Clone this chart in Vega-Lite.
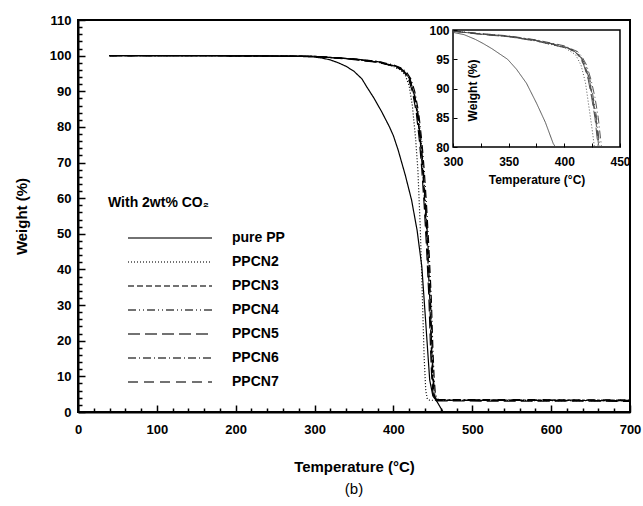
{
  "$schema": "https://vega.github.io/schema/vega-lite/v6.json",
  "width": 552,
  "height": 392,
  "autosize": {"type": "none"},
  "padding": {"left": 78, "top": 20, "right": 13, "bottom": 94},
  "background": "white",
  "title": {"text": "(b)", "orient": "bottom", "frame": "group", "anchor": "middle", "offset": 8, "fontSize": 15, "fontWeight": "normal", "font": "Liberation Sans", "color": "black"},
  "datasets": {
    "main": [
      {"s": "pure PP", "t": 40, "w": 100}, {"s": "pure PP", "t": 100, "w": 100}, {"s": "pure PP", "t": 200, "w": 99.95}, {"s": "pure PP", "t": 280, "w": 99.8}, {"s": "pure PP", "t": 300, "w": 99.6}, {"s": "pure PP", "t": 310, "w": 99.3}, {"s": "pure PP", "t": 320, "w": 98.8}, {"s": "pure PP", "t": 330, "w": 98.0}, {"s": "pure PP", "t": 340, "w": 97}, {"s": "pure PP", "t": 350, "w": 95.6}, {"s": "pure PP", "t": 360, "w": 93.5}, {"s": "pure PP", "t": 366, "w": 91.3}, {"s": "pure PP", "t": 375, "w": 88.2}, {"s": "pure PP", "t": 385, "w": 84.3}, {"s": "pure PP", "t": 395, "w": 80}, {"s": "pure PP", "t": 400, "w": 77.5}, {"s": "pure PP", "t": 406, "w": 73.5}, {"s": "pure PP", "t": 415, "w": 66.5}, {"s": "pure PP", "t": 423, "w": 59.5}, {"s": "pure PP", "t": 430, "w": 51}, {"s": "pure PP", "t": 436, "w": 40.8}, {"s": "pure PP", "t": 441, "w": 25}, {"s": "pure PP", "t": 446, "w": 9}, {"s": "pure PP", "t": 450, "w": 4.5}, {"s": "pure PP", "t": 455, "w": 3}, {"s": "pure PP", "t": 463, "w": 0},

      {"s": "PPCN2", "t": 40, "w": 100}, {"s": "PPCN2", "t": 150, "w": 100}, {"s": "PPCN2", "t": 250, "w": 99.9}, {"s": "PPCN2", "t": 300, "w": 99.8}, {"s": "PPCN2", "t": 350, "w": 99}, {"s": "PPCN2", "t": 380, "w": 98.2}, {"s": "PPCN2", "t": 400, "w": 97}, {"s": "PPCN2", "t": 410, "w": 95.8}, {"s": "PPCN2", "t": 415, "w": 94.5}, {"s": "PPCN2", "t": 420, "w": 91.5}, {"s": "PPCN2", "t": 424, "w": 86}, {"s": "PPCN2", "t": 428, "w": 77}, {"s": "PPCN2", "t": 431, "w": 68}, {"s": "PPCN2", "t": 434, "w": 52}, {"s": "PPCN2", "t": 437, "w": 30}, {"s": "PPCN2", "t": 439, "w": 15}, {"s": "PPCN2", "t": 441, "w": 6}, {"s": "PPCN2", "t": 443, "w": 3.6}, {"s": "PPCN2", "t": 446, "w": 3.3}, {"s": "PPCN2", "t": 600, "w": 3.2}, {"s": "PPCN2", "t": 700, "w": 3.2},

      {"s": "PPCN3", "t": 40, "w": 100}, {"s": "PPCN3", "t": 150, "w": 100}, {"s": "PPCN3", "t": 250, "w": 99.9}, {"s": "PPCN3", "t": 300, "w": 99.8}, {"s": "PPCN3", "t": 350, "w": 99}, {"s": "PPCN3", "t": 380, "w": 98.2}, {"s": "PPCN3", "t": 400, "w": 97.2}, {"s": "PPCN3", "t": 410, "w": 96.2}, {"s": "PPCN3", "t": 415, "w": 95.2}, {"s": "PPCN3", "t": 420, "w": 93.5}, {"s": "PPCN3", "t": 425, "w": 90}, {"s": "PPCN3", "t": 430, "w": 84}, {"s": "PPCN3", "t": 434, "w": 76}, {"s": "PPCN3", "t": 437, "w": 68}, {"s": "PPCN3", "t": 440, "w": 58}, {"s": "PPCN3", "t": 443, "w": 46}, {"s": "PPCN3", "t": 446, "w": 32}, {"s": "PPCN3", "t": 448, "w": 18}, {"s": "PPCN3", "t": 449.5, "w": 10}, {"s": "PPCN3", "t": 451, "w": 5.5}, {"s": "PPCN3", "t": 453, "w": 3.6}, {"s": "PPCN3", "t": 456, "w": 3.3}, {"s": "PPCN3", "t": 700, "w": 3.2},

      {"s": "PPCN4", "t": 40, "w": 100}, {"s": "PPCN4", "t": 150, "w": 100}, {"s": "PPCN4", "t": 250, "w": 99.9}, {"s": "PPCN4", "t": 300, "w": 99.8}, {"s": "PPCN4", "t": 350, "w": 99.1}, {"s": "PPCN4", "t": 380, "w": 98.3}, {"s": "PPCN4", "t": 400, "w": 97.3}, {"s": "PPCN4", "t": 410, "w": 96.4}, {"s": "PPCN4", "t": 416, "w": 95.2}, {"s": "PPCN4", "t": 421, "w": 93.5}, {"s": "PPCN4", "t": 426, "w": 90}, {"s": "PPCN4", "t": 431, "w": 84}, {"s": "PPCN4", "t": 435, "w": 76}, {"s": "PPCN4", "t": 438, "w": 68}, {"s": "PPCN4", "t": 441, "w": 58}, {"s": "PPCN4", "t": 444, "w": 46}, {"s": "PPCN4", "t": 447, "w": 32}, {"s": "PPCN4", "t": 449, "w": 18}, {"s": "PPCN4", "t": 450.5, "w": 10}, {"s": "PPCN4", "t": 452, "w": 5.5}, {"s": "PPCN4", "t": 454, "w": 3.6}, {"s": "PPCN4", "t": 457, "w": 3.4}, {"s": "PPCN4", "t": 700, "w": 3.3},

      {"s": "PPCN5", "t": 40, "w": 100}, {"s": "PPCN5", "t": 150, "w": 100}, {"s": "PPCN5", "t": 250, "w": 99.9}, {"s": "PPCN5", "t": 300, "w": 99.8}, {"s": "PPCN5", "t": 350, "w": 98.9}, {"s": "PPCN5", "t": 380, "w": 98.1}, {"s": "PPCN5", "t": 400, "w": 97.1}, {"s": "PPCN5", "t": 409, "w": 96.2}, {"s": "PPCN5", "t": 414, "w": 95.2}, {"s": "PPCN5", "t": 419, "w": 93.5}, {"s": "PPCN5", "t": 424, "w": 90}, {"s": "PPCN5", "t": 429, "w": 84}, {"s": "PPCN5", "t": 433, "w": 76}, {"s": "PPCN5", "t": 436, "w": 68}, {"s": "PPCN5", "t": 439, "w": 58}, {"s": "PPCN5", "t": 442, "w": 46}, {"s": "PPCN5", "t": 445, "w": 32}, {"s": "PPCN5", "t": 447, "w": 18}, {"s": "PPCN5", "t": 448.5, "w": 10}, {"s": "PPCN5", "t": 450, "w": 5.5}, {"s": "PPCN5", "t": 452, "w": 3.5}, {"s": "PPCN5", "t": 455, "w": 3.1}, {"s": "PPCN5", "t": 700, "w": 3.0},

      {"s": "PPCN6", "t": 40, "w": 100}, {"s": "PPCN6", "t": 150, "w": 100}, {"s": "PPCN6", "t": 250, "w": 99.9}, {"s": "PPCN6", "t": 300, "w": 99.8}, {"s": "PPCN6", "t": 350, "w": 99.1}, {"s": "PPCN6", "t": 380, "w": 98.4}, {"s": "PPCN6", "t": 400, "w": 97.4}, {"s": "PPCN6", "t": 411, "w": 96.4}, {"s": "PPCN6", "t": 417, "w": 95.2}, {"s": "PPCN6", "t": 422, "w": 93.5}, {"s": "PPCN6", "t": 427, "w": 90}, {"s": "PPCN6", "t": 432, "w": 84}, {"s": "PPCN6", "t": 436, "w": 76}, {"s": "PPCN6", "t": 439, "w": 68}, {"s": "PPCN6", "t": 442, "w": 58}, {"s": "PPCN6", "t": 445, "w": 46}, {"s": "PPCN6", "t": 448, "w": 32}, {"s": "PPCN6", "t": 450, "w": 18}, {"s": "PPCN6", "t": 451.5, "w": 10}, {"s": "PPCN6", "t": 453, "w": 5.5}, {"s": "PPCN6", "t": 455, "w": 3.7}, {"s": "PPCN6", "t": 458, "w": 3.5}, {"s": "PPCN6", "t": 700, "w": 3.4},

      {"s": "PPCN7", "t": 40, "w": 100}, {"s": "PPCN7", "t": 150, "w": 100}, {"s": "PPCN7", "t": 250, "w": 99.9}, {"s": "PPCN7", "t": 300, "w": 99.8}, {"s": "PPCN7", "t": 350, "w": 99}, {"s": "PPCN7", "t": 380, "w": 98.2}, {"s": "PPCN7", "t": 400, "w": 97.2}, {"s": "PPCN7", "t": 410, "w": 96.3}, {"s": "PPCN7", "t": 415.5, "w": 95.2}, {"s": "PPCN7", "t": 420.5, "w": 93.5}, {"s": "PPCN7", "t": 425.5, "w": 90}, {"s": "PPCN7", "t": 430.5, "w": 84}, {"s": "PPCN7", "t": 434.5, "w": 76}, {"s": "PPCN7", "t": 437.5, "w": 68}, {"s": "PPCN7", "t": 440.5, "w": 58}, {"s": "PPCN7", "t": 443.5, "w": 46}, {"s": "PPCN7", "t": 446.5, "w": 32}, {"s": "PPCN7", "t": 448.5, "w": 18}, {"s": "PPCN7", "t": 450, "w": 10}, {"s": "PPCN7", "t": 451.5, "w": 5.5}, {"s": "PPCN7", "t": 453.5, "w": 3.6}, {"s": "PPCN7", "t": 456.5, "w": 3.3}, {"s": "PPCN7", "t": 700, "w": 3.2}
    ],
    "inset": [
      {"s": "pure PP", "t": 300, "w": 99.6}, {"s": "pure PP", "t": 310, "w": 99.2}, {"s": "pure PP", "t": 320, "w": 98.4}, {"s": "pure PP", "t": 327, "w": 97.7}, {"s": "pure PP", "t": 335, "w": 96.8}, {"s": "pure PP", "t": 342, "w": 95.9}, {"s": "pure PP", "t": 349, "w": 95.0}, {"s": "pure PP", "t": 357, "w": 93.3}, {"s": "pure PP", "t": 366, "w": 90.9}, {"s": "pure PP", "t": 375, "w": 87.5}, {"s": "pure PP", "t": 383, "w": 84.2}, {"s": "pure PP", "t": 390, "w": 80.6}, {"s": "pure PP", "t": 392, "w": 80},

      {"s": "PPCN2", "t": 300, "w": 99.8}, {"s": "PPCN2", "t": 325, "w": 99.3}, {"s": "PPCN2", "t": 350, "w": 98.9}, {"s": "PPCN2", "t": 375, "w": 98.1}, {"s": "PPCN2", "t": 400, "w": 97}, {"s": "PPCN2", "t": 410, "w": 95.8}, {"s": "PPCN2", "t": 415, "w": 94}, {"s": "PPCN2", "t": 419, "w": 91}, {"s": "PPCN2", "t": 422, "w": 87}, {"s": "PPCN2", "t": 425, "w": 83}, {"s": "PPCN2", "t": 427, "w": 80},

      {"s": "PPCN3", "t": 300, "w": 99.8}, {"s": "PPCN3", "t": 325, "w": 99.3}, {"s": "PPCN3", "t": 350, "w": 98.9}, {"s": "PPCN3", "t": 375, "w": 98.2}, {"s": "PPCN3", "t": 400, "w": 97.1}, {"s": "PPCN3", "t": 410, "w": 96.3}, {"s": "PPCN3", "t": 414, "w": 95.4}, {"s": "PPCN3", "t": 418, "w": 94}, {"s": "PPCN3", "t": 422, "w": 91.5}, {"s": "PPCN3", "t": 425, "w": 88.5}, {"s": "PPCN3", "t": 428, "w": 85}, {"s": "PPCN3", "t": 430, "w": 81.5}, {"s": "PPCN3", "t": 431, "w": 80},

      {"s": "PPCN4", "t": 300, "w": 99.8}, {"s": "PPCN4", "t": 325, "w": 99.35}, {"s": "PPCN4", "t": 350, "w": 98.95}, {"s": "PPCN4", "t": 375, "w": 98.25}, {"s": "PPCN4", "t": 400, "w": 97.2}, {"s": "PPCN4", "t": 411, "w": 96.3}, {"s": "PPCN4", "t": 415, "w": 95.4}, {"s": "PPCN4", "t": 419, "w": 94}, {"s": "PPCN4", "t": 423, "w": 91.5}, {"s": "PPCN4", "t": 426, "w": 88.5}, {"s": "PPCN4", "t": 429, "w": 85}, {"s": "PPCN4", "t": 431, "w": 81.5}, {"s": "PPCN4", "t": 432, "w": 80},

      {"s": "PPCN5", "t": 300, "w": 99.8}, {"s": "PPCN5", "t": 325, "w": 99.25}, {"s": "PPCN5", "t": 350, "w": 98.85}, {"s": "PPCN5", "t": 375, "w": 98.1}, {"s": "PPCN5", "t": 400, "w": 97.0}, {"s": "PPCN5", "t": 409.5, "w": 96.3}, {"s": "PPCN5", "t": 413.5, "w": 95.4}, {"s": "PPCN5", "t": 417.5, "w": 94}, {"s": "PPCN5", "t": 421.5, "w": 91.5}, {"s": "PPCN5", "t": 424.5, "w": 88.5}, {"s": "PPCN5", "t": 427.5, "w": 85}, {"s": "PPCN5", "t": 429.5, "w": 81.5}, {"s": "PPCN5", "t": 430.5, "w": 80},

      {"s": "PPCN6", "t": 300, "w": 99.85}, {"s": "PPCN6", "t": 325, "w": 99.4}, {"s": "PPCN6", "t": 350, "w": 99.0}, {"s": "PPCN6", "t": 375, "w": 98.3}, {"s": "PPCN6", "t": 400, "w": 97.3}, {"s": "PPCN6", "t": 412, "w": 96.3}, {"s": "PPCN6", "t": 416, "w": 95.4}, {"s": "PPCN6", "t": 420, "w": 94}, {"s": "PPCN6", "t": 424, "w": 91.5}, {"s": "PPCN6", "t": 427.5, "w": 88.5}, {"s": "PPCN6", "t": 430.5, "w": 85}, {"s": "PPCN6", "t": 432.5, "w": 81.5}, {"s": "PPCN6", "t": 433.5, "w": 80},

      {"s": "PPCN7", "t": 300, "w": 99.8}, {"s": "PPCN7", "t": 325, "w": 99.3}, {"s": "PPCN7", "t": 350, "w": 98.9}, {"s": "PPCN7", "t": 375, "w": 98.2}, {"s": "PPCN7", "t": 400, "w": 97.15}, {"s": "PPCN7", "t": 410.5, "w": 96.3}, {"s": "PPCN7", "t": 414.5, "w": 95.4}, {"s": "PPCN7", "t": 418.5, "w": 94}, {"s": "PPCN7", "t": 422.5, "w": 91.5}, {"s": "PPCN7", "t": 425.5, "w": 88.5}, {"s": "PPCN7", "t": 428.5, "w": 85}, {"s": "PPCN7", "t": 430.5, "w": 81.5}, {"s": "PPCN7", "t": 431.5, "w": 80}
    ],
    "frame": [{"t1": 300, "t2": 450, "w1": 80, "w2": 100}]
  },
  "layer": [
    {
      "data": {"name": "main"},
      "mark": {"type": "line", "color": "black", "strokeWidth": 1.2, "clip": true},
      "encoding": {
        "x": {
          "field": "t", "type": "quantitative",
          "scale": {"domain": [0, 700], "nice": false, "zero": false},
          "axis": {
            "orient": "bottom",
            "zindex": 1,
            "title": "Temperature (°C)",
            "values": [0, 20, 40, 60, 80, 100, 120, 140, 160, 180, 200, 220, 240, 260, 280, 300, 320, 340, 360, 380, 400, 420, 440, 460, 480, 500, 520, 540, 560, 580, 600, 620, 640, 660, 680, 700],
            "labelExpr": "datum.value % 100 === 0 ? datum.label : ''",
            "labelFlush": false,
            "labelOverlap": false,
            "tickSize": {"condition": {"test": "datum.value % 100 === 0", "value": -7}, "value": -4},
            "tickWidth": 1.5,
            "labelPadding": 18,
            "labelFontSize": 13,
            "titleFontSize": 15,
            "titlePadding": 20,
            "domainWidth": 2
          }
        },
        "y": {
          "field": "w", "type": "quantitative",
          "scale": {"domain": [0, 110], "nice": false, "zero": false},
          "axis": {
            "orient": "left",
            "zindex": 1,
            "title": "Weight (%)",
            "values": [0, 2, 4, 6, 8, 10, 12, 14, 16, 18, 20, 22, 24, 26, 28, 30, 32, 34, 36, 38, 40, 42, 44, 46, 48, 50, 52, 54, 56, 58, 60, 62, 64, 66, 68, 70, 72, 74, 76, 78, 80, 82, 84, 86, 88, 90, 92, 94, 96, 98, 100, 102, 104, 106, 108, 110],
            "labelExpr": "datum.value % 10 === 0 ? datum.label : ''",
            "labelOverlap": false,
            "tickSize": {"condition": {"test": "datum.value % 10 === 0", "value": -7}, "value": -4},
            "tickWidth": 1.5,
            "labelPadding": 14,
            "labelFontSize": 13,
            "titleFontSize": 15,
            "titlePadding": 20,
            "domainWidth": 2
          }
        },
        "strokeDash": {
          "field": "s", "type": "nominal",
          "scale": {
            "domain": ["pure PP", "PPCN2", "PPCN3", "PPCN4", "PPCN5", "PPCN6", "PPCN7"],
            "range": [[1, 0], [1, 2], [6, 3], [8, 3, 1, 3, 1, 3], [12, 5], [8, 3, 1, 3], [10, 6]]
          },
          "legend": {
            "orient": "none",
            "legendX": 30,
            "legendY": 176,
            "title": "With 2wt% CO₂",
            "titleFontSize": 14,
            "titleFontWeight": "bold",
            "titleColor": "black",
            "titlePadding": 20,
            "labelFontSize": 14,
            "labelFontWeight": "bold",
            "labelColor": "black",
            "symbolType": "M-6,0H6",
            "symbolSize": 196,
            "symbolStrokeWidth": 1.4,
            "symbolStrokeColor": "black",
            "symbolOpacity": 1,
            "symbolOffset": 54,
            "labelOffset": 54,
            "rowPadding": 9,
            "padding": 0
          }
        }
      }
    },
    {
      "layer": [
        {
          "data": {"name": "frame"},
          "mark": {"type": "rect", "fill": "white", "stroke": "black", "strokeWidth": 1.5},
          "encoding": {
            "x": {"field": "t1", "type": "quantitative", "scale": {"domain": [-36.9, 459], "nice": false, "zero": false},
              "axis": {"orient": "bottom", "zindex": 1, "offset": -265, "domain": false, "values": [300, 325, 350, 375, 400, 425, 450], "labelExpr": "datum.value % 50 === 0 ? datum.label : ''", "labelFlush": false, "labelOverlap": false, "tickSize": -4, "tickWidth": 1, "labelPadding": 13, "labelFontSize": 12, "title": "Temperature (°C)", "titleFontSize": 12, "titleX": 458.5, "titleY": 32, "titleBaseline": "middle", "titleAlign": "center"}},
            "x2": {"field": "t2"},
            "y": {"field": "w1", "type": "quantitative", "scale": {"domain": [34.7, 101.71], "nice": false, "zero": false},
              "axis": {"orient": "left", "zindex": 1, "offset": -375, "domain": false, "values": [80, 85, 90, 95, 100], "labelOverlap": false, "tickSize": -4, "tickWidth": 1, "labelPadding": 8, "labelFontSize": 12, "title": "Weight (%)", "titleFontSize": 12, "titleX": 19, "titleY": 70, "titleAngle": -90, "titleBaseline": "middle", "titleAlign": "center"}},
            "y2": {"field": "w2"}
          }
        },
        {
          "data": {"name": "inset"},
          "mark": {"type": "line", "color": "#444444", "strokeWidth": 0.9},
          "encoding": {
            "x": {"field": "t", "type": "quantitative", "scale": {"domain": [-36.9, 459], "nice": false, "zero": false},
              "axis": {"orient": "bottom", "zindex": 1, "offset": -265, "domain": false, "values": [300, 325, 350, 375, 400, 425, 450], "labelExpr": "datum.value % 50 === 0 ? datum.label : ''", "labelFlush": false, "labelOverlap": false, "tickSize": -4, "tickWidth": 1, "labelPadding": 13, "labelFontSize": 12, "title": "Temperature (°C)", "titleFontSize": 12, "titleX": 458.5, "titleY": 32, "titleBaseline": "middle", "titleAlign": "center"}},
            "y": {"field": "w", "type": "quantitative", "scale": {"domain": [34.7, 101.71], "nice": false, "zero": false},
              "axis": {"orient": "left", "zindex": 1, "offset": -375, "domain": false, "values": [80, 85, 90, 95, 100], "labelOverlap": false, "tickSize": -4, "tickWidth": 1, "labelPadding": 8, "labelFontSize": 12, "title": "Weight (%)", "titleFontSize": 12, "titleX": 19, "titleY": 70, "titleAngle": -90, "titleBaseline": "middle", "titleAlign": "center"}},
            "strokeDash": {"field": "s", "type": "nominal"}
          }
        }
      ]
    }
  ],
  "resolve": {"scale": {"x": "independent", "y": "independent"}, "axis": {"x": "independent", "y": "independent"}},
  "config": {
    "font": "Liberation Sans",
    "view": {"stroke": "black", "strokeWidth": 2},
    "axis": {"grid": false, "domainColor": "black", "tickColor": "black", "labelColor": "black", "titleColor": "black", "labelFontWeight": "bold", "titleFontWeight": "bold"}
  }
}
